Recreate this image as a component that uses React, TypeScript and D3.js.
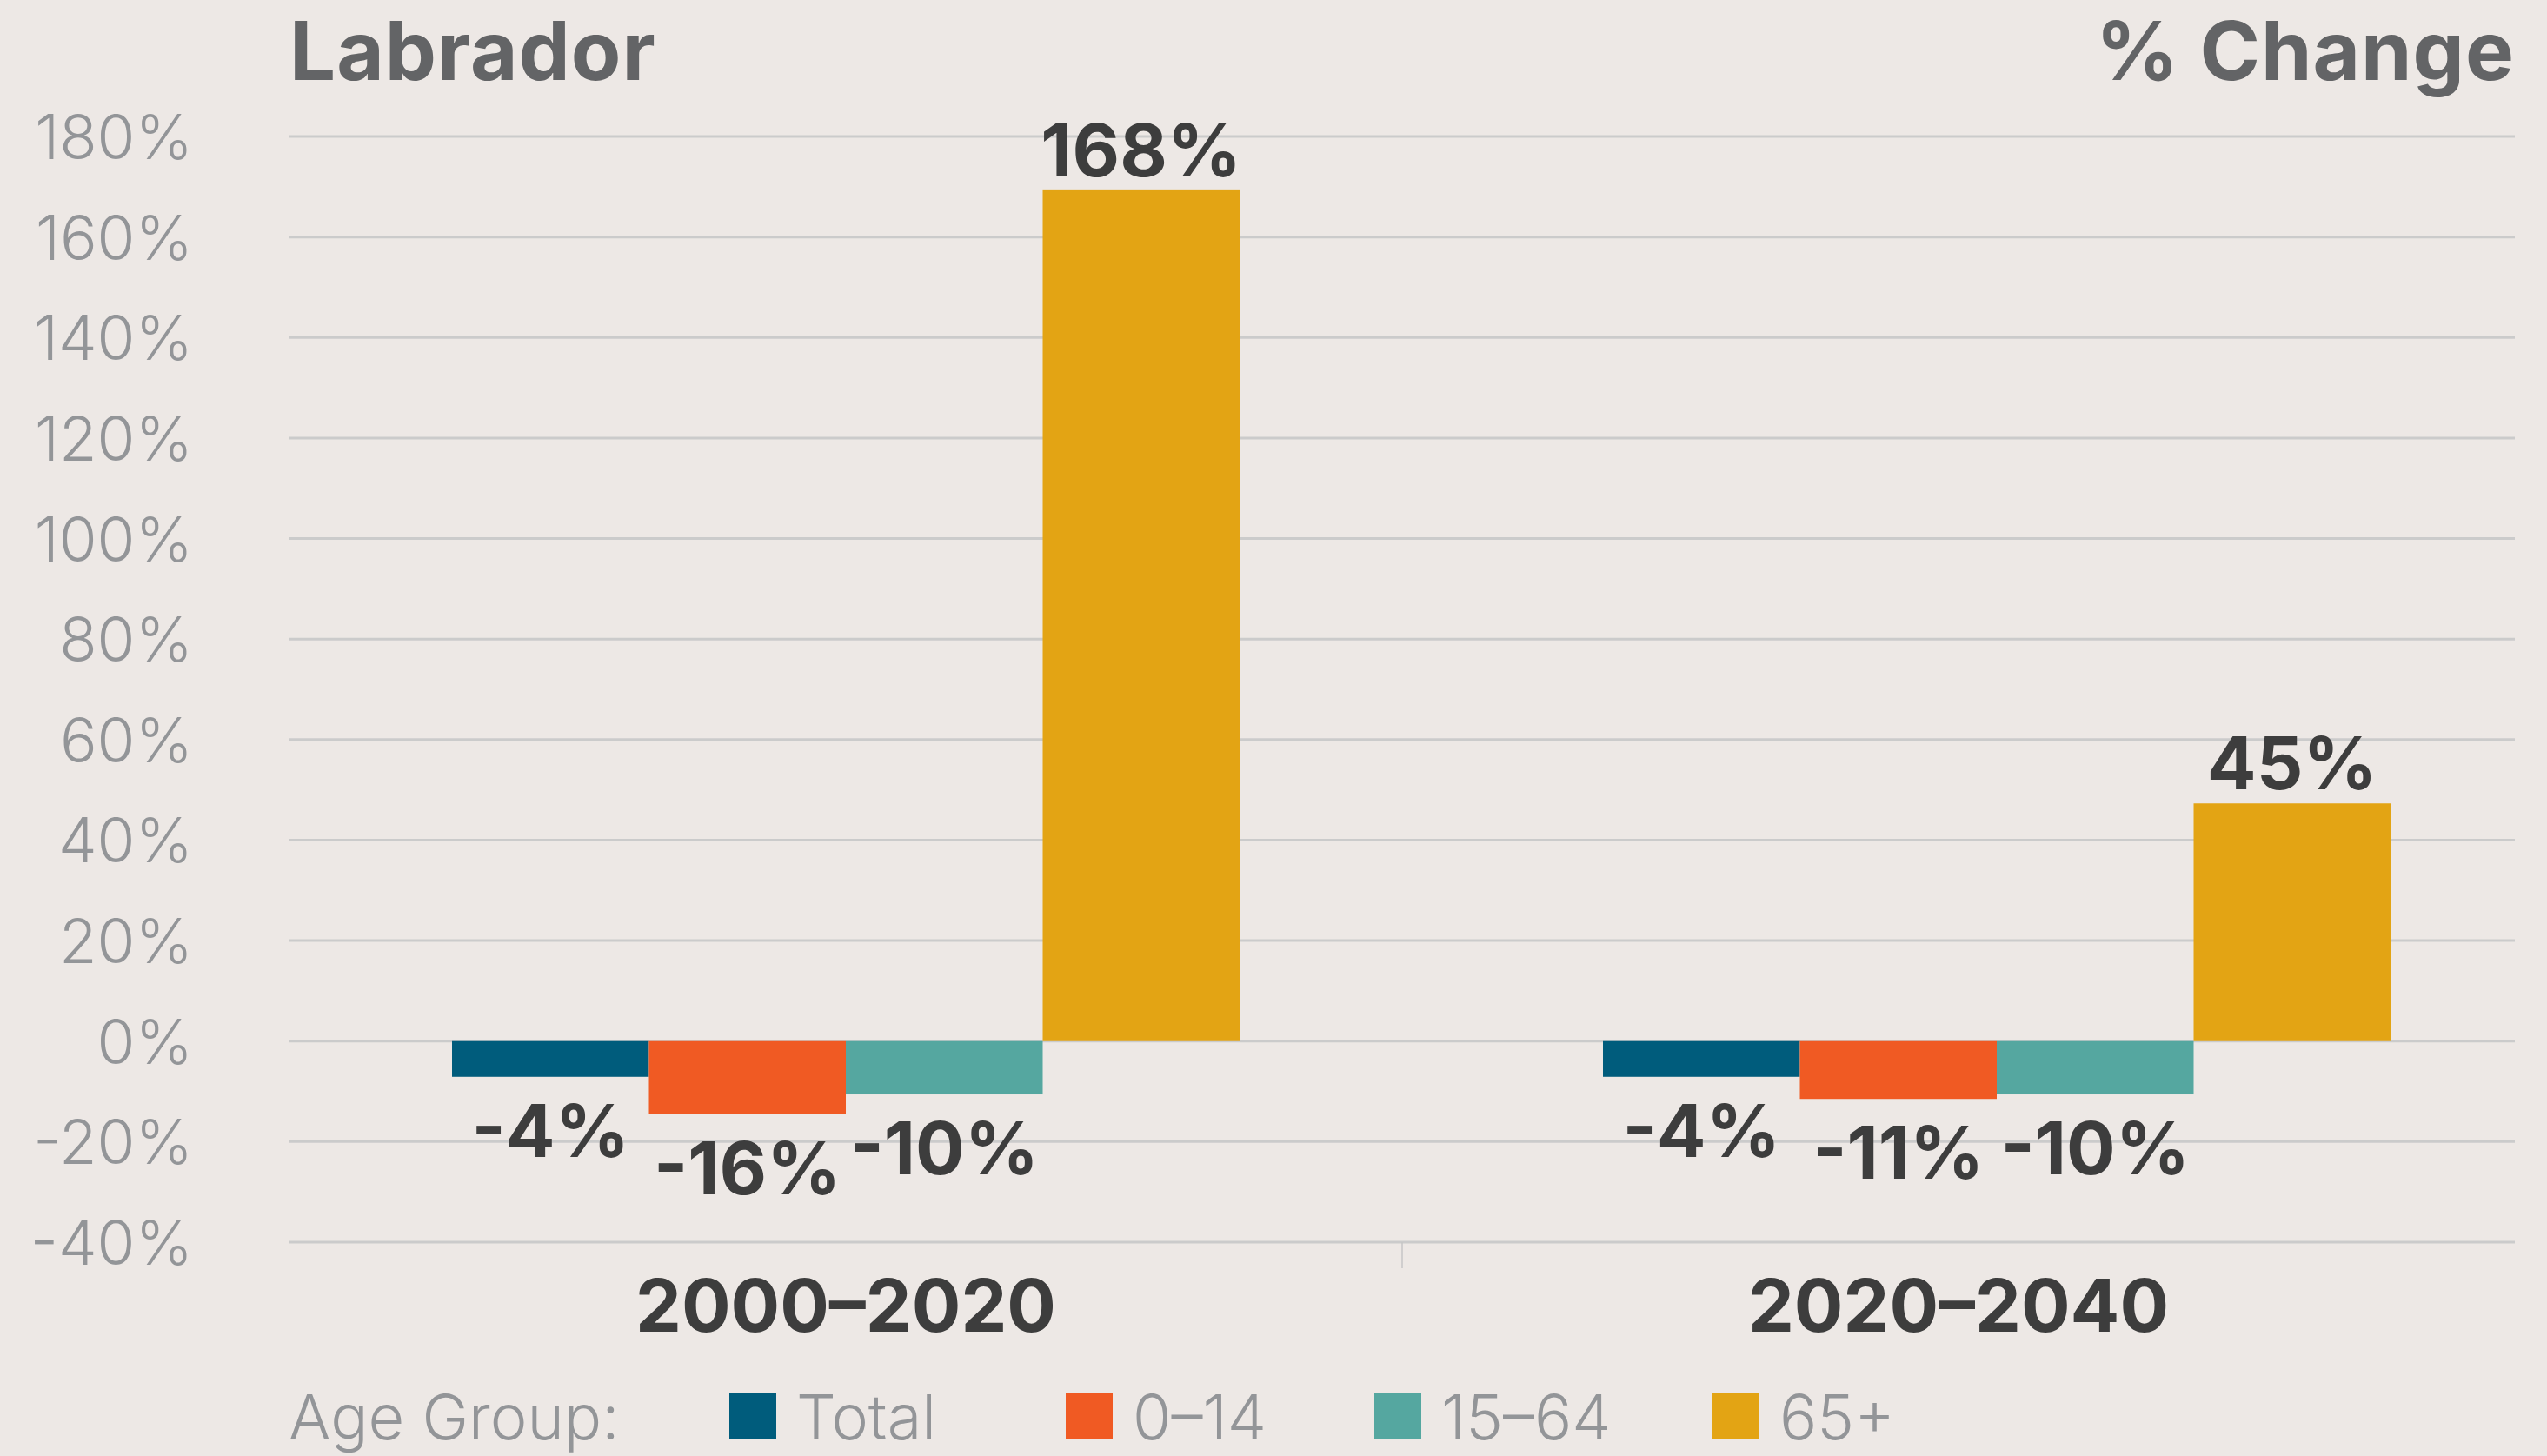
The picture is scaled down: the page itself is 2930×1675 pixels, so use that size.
import React from "react";
import * as d3 from "d3";

// ---- data ----
const periods = ["2000–2020", "2020–2040"];
const ageGroups = ["Total", "0–14", "15–64", "65+"];
const groupColors = ["#005c7c", "#f05a23", "#55a7a0", "#e3a414"];
// bar lengths as drawn (% change)
const values2000_2020 = [-7.1, -14.5, -10.6, 169.3];
const values2020_2040 = [-7.1, -11.5, -10.6, 47.3];
// printed value labels
const labels2000_2020 = ["-4%", "-16%", "-10%", "168%"];
const labels2020_2040 = ["-4%", "-11%", "-10%", "45%"];
const yTicks = [180, 160, 140, 120, 100, 80, 60, 40, 20, 0, -20, -40];
const titleLeft = "Labrador";
const titleRight = "% Change";
const legendTitle = "Age Group:";

// ---- layout ----
const W = 2930;
const H = 1675;
const plotLeft = 333;
const plotRight = 2893;
const plotTop = 157;
const plotBottom = 1429;
const groupWidth = 906;
const groupNudge = [0, 44];
const legendSquareX = [839, 1226, 1581, 1970];
const legendBaseline = 1656;
const FONT = "Inter, 'Open Sans', 'Noto Sans', sans-serif";

export default function App() {
  const y = d3.scaleLinear().domain([-40, 180]).range([plotBottom, plotTop]);
  const xBand = d3.scaleBand<string>().domain(periods).range([plotLeft, plotRight]).paddingInner(0).paddingOuter(0);
  const xInner = d3.scaleBand<string>().domain(ageGroups).range([0, groupWidth]).padding(0);
  const series = [values2000_2020, values2020_2040];
  const labels = [labels2000_2020, labels2020_2040];
  const bw = xBand.bandwidth();

  return (
    <svg width={W} height={H} viewBox={`0 0 ${W} ${H}`} style={{ position: "absolute", left: 0, top: 0, display: "block" }}>
      <rect x={0} y={0} width={W} height={H} fill="#ede8e5" />

      {/* titles */}
      <text x={plotLeft} y={92} fontFamily={FONT} fontWeight={700} fontSize={94} letterSpacing={1} fill="#636466">{titleLeft}</text>
      <text x={plotRight} y={92} textAnchor="end" fontFamily={FONT} fontWeight={700} fontSize={94} letterSpacing={1} fill="#636466">{titleRight}</text>

      {/* gridlines and y ticks */}
      {yTicks.map((t) => (
        <g key={t}>
          <line x1={plotLeft} x2={plotRight} y1={y(t)} y2={y(t)} stroke="#cbcbcb" strokeWidth={3} />
          <text x={222} y={y(t) + 26} textAnchor="end" fontFamily={FONT} fontWeight={300} fontSize={71} fill="#939598">{`${t}%`}</text>
        </g>
      ))}

      {/* category divider tick */}
      <line x1={xBand(periods[1])!} x2={xBand(periods[1])!} y1={plotBottom} y2={plotBottom + 30} stroke="#c6c6c6" strokeWidth={1.5} />

      {/* bars */}
      {periods.map((p, pi) => {
        const gx = xBand(p)! + (bw - groupWidth) / 2 + groupNudge[pi];
        return (
          <g key={p}>
            {ageGroups.map((a, ai) => {
              const v = series[pi][ai];
              const x0 = gx + xInner(a)!;
              const yTop = v >= 0 ? y(v) : y(0);
              const h = Math.abs(y(v) - y(0));
              return <rect key={a} x={x0} y={yTop} width={xInner.bandwidth()} height={h} fill={groupColors[ai]} />;
            })}
            {ageGroups.map((a, ai) => {
              const v = series[pi][ai];
              const cx = gx + xInner(a)! + xInner.bandwidth() / 2;
              const ty = v >= 0 ? y(v) - 16 : y(v) + 92;
              return (
                <text key={a} x={cx} y={ty} textAnchor="middle" fontFamily={FONT} fontWeight={700} fontSize={84} fill="#3d3d3d">
                  {labels[pi][ai]}
                </text>
              );
            })}
            <text x={xBand(p)! + bw / 2} y={1532} textAnchor="middle" fontFamily={FONT} fontWeight={700} fontSize={84} fill="#3d3d3d">{p}</text>
          </g>
        );
      })}

      {/* legend */}
      <text x={332} y={legendBaseline} fontFamily={FONT} fontWeight={300} fontSize={72} fill="#939598">{legendTitle}</text>
      {ageGroups.map((a, ai) => (
        <g key={a}>
          <rect x={legendSquareX[ai]} y={legendBaseline - 54} width={54} height={54} fill={groupColors[ai]} />
          <text x={legendSquareX[ai] + 77} y={legendBaseline} fontFamily={FONT} fontWeight={300} fontSize={72} fill="#939598">{a}</text>
        </g>
      ))}
    </svg>
  );
}
